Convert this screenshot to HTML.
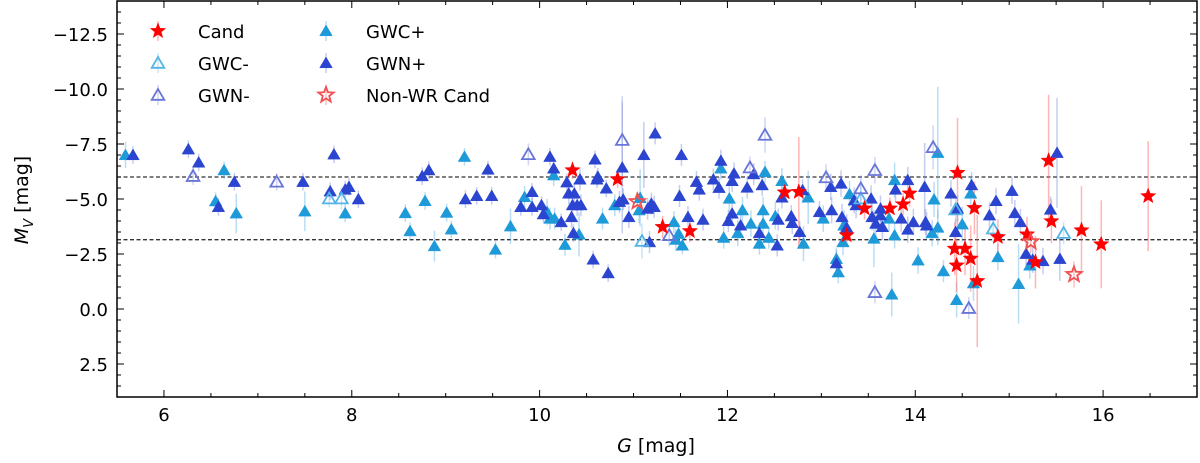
<!DOCTYPE html>
<html><head><meta charset="utf-8"><style>
html,body{margin:0;padding:0;background:#fff;}
svg{display:block;font-family:"DejaVu Sans","Liberation Sans",sans-serif;}
</style></head><body>
<svg id="chart" width="1200" height="463" viewBox="0 0 1200 463" xmlns="http://www.w3.org/2000/svg">
<rect x="0" y="0" width="1200" height="463" fill="#fff"/>
<g id="grid"></g>
<g id="errs"></g>
<g id="marks"></g>
<g id="axes"></g>
<g id="legend"></g>
<text x="656" y="452" font-size="19" text-anchor="middle"><tspan font-style="italic">G</tspan> [mag]</text>
<text transform="translate(28,200) rotate(-90)" font-size="19" text-anchor="middle"><tspan font-style="italic">M</tspan><tspan font-style="italic" font-size="13" dy="5">V</tspan><tspan dy="-5"> [mag]</tspan></text>
</svg>
<script>
const xTicks=[6,8,10,12,14,16];
const xTickLabels=["6","8","10","12","14","16"];
const yTicks=[-12.5,-10,-7.5,-5,-2.5,0,2.5];
const yTickLabels=["\u221212.5","\u221210.0","\u22127.5","\u22125.0","\u22122.5","0.0","2.5"];
const refLines=[-6.0,-3.15];

const gwcpG=[5.59,6.55,6.64,6.77,7.50,7.93,8.57,8.62,8.78,8.88,9.01,9.06,9.20,9.69,9.53,9.84,10.08,10.11,10.16,10.15,10.27,10.42,10.67,10.80,11.07,11.06,11.43,11.45,11.48,11.52,11.93,11.96,12.02,12.11,12.16,12.25,12.34,12.38,12.38,12.40,12.44,12.51,12.58,12.81,12.86,13.02,13.24,13.23,13.16,13.18,13.30,13.56,13.72,13.78,13.78,13.75,14.03,14.24,14.20,14.18,14.24,14.30,14.44,14.50,14.59,14.62,14.88,15.10,15.22];
const gwcpM=[-7.00,-4.90,-6.31,-4.35,-4.44,-4.35,-4.36,-3.54,-4.91,-2.86,-4.38,-3.62,-6.92,-3.76,-2.70,-5.09,-4.41,-4.11,-4.11,-6.08,-2.92,-3.39,-4.11,-4.72,-5.05,-4.49,-3.95,-3.15,-3.42,-2.89,-6.39,-3.24,-5.02,-3.45,-4.49,-3.88,-2.97,-4.49,-3.88,-6.23,-3.24,-4.22,-5.82,-2.97,-5.07,-4.11,-3.80,-3.04,-2.28,-1.67,-5.22,-3.20,-4.11,-5.86,-3.35,-0.66,-2.21,-7.10,-4.98,-3.45,-3.70,-1.72,-0.41,-3.85,-5.25,-1.17,-2.36,-1.14,-1.98];
const gwcpE=[0.6,0.4,0.4,0.9,0.9,0.4,0.4,0.4,0.4,0.7,0.4,0.4,0.4,0.8,0.4,0.5,0.6,0.5,0.5,0.5,0.5,1.0,0.5,0.5,1.3,0.6,0.5,0.5,0.5,0.4,0.5,0.5,0.6,0.6,0.6,0.6,0.5,0.6,0.6,0.5,0.5,0.6,0.6,0.8,1.2,0.6,0.7,0.6,0.5,0.5,0.6,1.3,0.6,0.8,0.6,1.0,0.6,3.0,0.8,0.6,0.8,0.5,0.8,0.8,0.8,0.8,0.6,1.8,0.6];

const gwnpG=[5.67,6.26,6.37,6.58,6.75,7.48,7.77,7.81,7.93,7.97,8.07,8.75,8.82,9.21,9.33,9.45,9.49,9.80,9.92,9.92,10.02,10.04,10.11,10.15,10.23,10.29,10.31,10.35,10.34,10.37,10.40,10.36,10.43,10.44,10.57,10.59,10.61,10.62,10.71,10.73,10.85,10.88,10.89,10.95,11.11,11.15,11.17,11.19,11.22,11.23,11.49,11.51,11.58,11.67,11.70,11.74,11.85,11.91,11.93,12.01,12.05,12.07,12.05,12.14,12.21,12.28,12.34,12.37,12.53,12.54,12.58,12.68,12.69,12.77,12.80,12.98,13.10,13.11,13.21,13.22,13.27,13.16,13.35,13.37,13.53,13.54,13.58,13.63,13.63,13.65,13.79,13.85,13.92,13.92,13.98,14.10,14.11,14.12,14.38,14.43,14.45,14.60,14.79,14.86,15.03,15.06,15.12,15.18,15.25,15.36,15.44,15.51,15.54];
const gwnpM=[-7.00,-7.26,-6.66,-4.64,-5.78,-5.78,-5.35,-7.03,-5.43,-5.55,-4.99,-6.04,-6.31,-4.99,-5.14,-6.34,-5.14,-4.64,-5.32,-4.64,-4.72,-4.31,-6.92,-6.39,-3.95,-5.76,-5.25,-4.72,-4.18,-5.25,-4.72,-3.45,-5.89,-4.72,-2.25,-6.80,-5.89,-6.01,-5.48,-1.63,-4.87,-6.43,-4.98,-4.18,-7.00,-4.56,-3.04,-4.79,-4.64,-7.98,-5.14,-7.00,-4.18,-5.78,-5.43,-4.06,-5.89,-5.51,-6.74,-4.00,-4.34,-6.16,-5.82,-3.80,-5.52,-6.13,-3.45,-5.63,-2.89,-4.06,-5.07,-4.22,-3.91,-3.50,-5.40,-4.41,-5.55,-4.49,-5.70,-4.18,-3.70,-2.08,-4.94,-4.72,-5.02,-4.18,-3.88,-4.56,-4.26,-3.73,-5.43,-4.11,-5.86,-3.61,-3.95,-5.55,-3.95,-3.80,-5.25,-3.50,-4.56,-5.63,-4.26,-4.91,-5.37,-4.36,-3.95,-2.51,-2.24,-2.18,-4.52,-7.10,-2.28];
const gwnpE=[0.4,0.4,0.4,0.4,0.4,0.4,0.4,0.4,0.4,0.4,0.4,0.4,0.4,0.4,0.4,0.4,0.4,0.4,0.4,0.4,0.4,0.4,0.4,0.4,0.4,0.4,0.5,0.4,0.5,0.5,0.5,0.4,0.5,0.5,0.4,0.4,0.4,0.4,0.4,0.4,0.5,3.0,0.5,0.5,1.5,0.5,0.5,0.5,0.5,0.5,0.5,0.5,0.5,0.5,0.5,0.5,0.5,0.5,0.5,0.5,0.5,0.5,0.5,0.5,0.5,0.5,0.5,0.5,0.5,0.5,0.5,0.5,0.5,0.5,0.5,0.5,0.6,0.6,0.6,0.6,0.6,0.6,0.6,0.6,0.6,0.6,0.6,0.6,0.6,0.6,0.6,0.6,0.6,0.6,0.6,2.0,0.6,0.6,0.6,0.6,0.6,0.6,0.6,0.6,0.6,0.6,0.6,0.6,0.6,0.6,0.6,2.5,1.0];

const gwnmG=[6.31,7.20,9.88,10.88,11.38,12.24,12.40,13.05,13.42,13.57,13.57,14.19,14.57];
const gwnmM=[-6.04,-5.78,-7.03,-7.68,-3.35,-6.43,-7.91,-5.98,-5.48,-6.31,-0.76,-7.35,-0.04];
const gwnmE=[0.4,0.4,0.5,2.0,0.5,0.5,0.8,0.6,0.6,0.6,0.5,1.0,0.5];

const gwcmG=[7.76,7.89,11.09,13.42,14.43,14.83,15.58];
const gwcmM=[-5.02,-5.02,-3.09,-5.02,-4.52,-3.65,-3.45];
const gwcmE=[0.4,0.5,0.8,0.6,0.6,0.6,0.5];

const candG=[10.35,10.83,11.31,11.60,12.61,12.76,13.27,13.46,13.73,13.87,13.94,14.45,14.42,14.44,14.53,14.59,14.63,14.66,14.88,15.19,15.28,15.42,15.45,15.77,15.98,16.48];
const candM=[-6.31,-5.90,-3.73,-3.54,-5.30,-5.32,-3.35,-4.57,-4.57,-4.76,-5.25,-6.19,-2.74,-1.98,-2.74,-2.29,-4.59,-1.27,-3.27,-3.39,-2.13,-6.74,-3.99,-3.58,-2.94,-5.13];
const candE=[0.4,0.4,0.5,0.5,0.4,2.5,0.5,0.5,0.5,0.5,0.6,2.5,1.2,1.2,1.2,1.5,1.2,3.0,0.8,0.8,1.2,3.0,1.0,2.0,2.0,2.5];

const nonwrG=[11.04,15.23,15.69];
const nonwrM=[-4.88,-3.06,-1.57];
const nonwrE=[0.4,0.5,0.6];

const X0=117,X1=1197,Y0=1,Y1=397,GMIN=5.5,GMAX=17,MMIN=-14,MMAX=4;
function xs(g){return X0+(g-GMIN)/(GMAX-GMIN)*(X1-X0);}
function ys(m){return Y0+(m-MMIN)/(MMAX-MMIN)*(Y1-Y0);}
const NS='http://www.w3.org/2000/svg';
function mk(tag,attrs,parent){const e=document.createElementNS(NS,tag);for(const k in attrs)e.setAttribute(k,attrs[k]);parent.appendChild(e);return e;}
const axes=document.getElementById('axes'),errs=document.getElementById('errs'),marks=document.getElementById('marks'),grid=document.getElementById('grid'),legend=document.getElementById('legend');

refLines.forEach(v=>{
  const l=mk('line',{x1:X0,x2:X1,y1:ys(v),y2:ys(v),stroke:'#333','stroke-width':1.3,'stroke-dasharray':'4,2.5'},grid);
  
  
});

function tri(x,y,s){return `${x},${y-s} ${x-s*1.05},${y+s*0.8} ${x+s*1.05},${y+s*0.8}`;}
function star(x,y,R){const r=R*0.42;let p=[];for(let i=0;i<10;i++){const a=-Math.PI/2+i*Math.PI/5;const rr=i%2?r:R;p.push((x+rr*Math.cos(a)).toFixed(1)+','+(y+rr*Math.sin(a)).toFixed(1));}return p.join(' ');}

function series(G,M,E,name,color,errColor,kind,open){
  for(let i=0;i<G.length;i++){
    const x=xs(G[i]);
    const eb=mk('line',{x1:x,x2:x,y1:ys(M[i]-E[i]),y2:ys(M[i]+E[i]),stroke:errColor,'stroke-width':1.5},errs);
    
    
  }
  for(let i=0;i<G.length;i++){
    const x=xs(G[i]),y=ys(M[i]);
    const pts=kind==='star'?star(x,y,8):tri(x,y,6);
    const p=mk('polygon',{points:pts,fill:open?'none':color,stroke:color,'stroke-width':open?1.8:0.5},marks);
    
    
  }
}
series(gwcpG,gwcpM,gwcpE,'gwc-plus','#1e9ad9','rgba(100,180,230,0.45)','tri',false);
series(gwnpG,gwnpM,gwnpE,'gwn-plus','#2b45d0','rgba(110,130,220,0.4)','tri',false);
series(gwcmG,gwcmM,gwcmE,'gwc-minus','#55b4e6','rgba(120,190,235,0.4)','tri',true);
series(gwnmG,gwnmM,gwnmE,'gwn-minus','#6a75d8','rgba(140,150,225,0.4)','tri',true);
series(candG,candM,candE,'cand','#ff0000','rgba(255,110,110,0.5)','star',false);
series(nonwrG,nonwrM,nonwrE,'non-wr-cand','#f25050','rgba(255,130,130,0.5)','star',true);

const fr=mk('rect',{x:X0,y:Y0,width:X1-X0,height:Y1-Y0,fill:'none',stroke:'#000','stroke-width':1.5},axes);


for(let g=5.5;g<=17.001;g+=0.5){const x=xs(g);const major=xTicks.some(t=>Math.abs(t-g)<1e-6);const L=major?7:4;
  mk('line',{x1:x,x2:x,y1:Y1,y2:Y1-L,stroke:'#000','stroke-width':1},axes);
  mk('line',{x1:x,x2:x,y1:Y0,y2:Y0+L,stroke:'#000','stroke-width':1},axes);}
for(let m=-14;m<=4.001;m+=0.5){const y=ys(m);const major=yTicks.some(t=>Math.abs(t-m)<1e-6);const L=major?7:4;
  mk('line',{x1:X0,x2:X0+L,y1:y,y2:y,stroke:'#000','stroke-width':1},axes);
  mk('line',{x1:X1,x2:X1-L,y1:y,y2:y,stroke:'#000','stroke-width':1},axes);}
xTicks.forEach((t,i)=>{const tx=mk('text',{x:xs(t),y:421,'font-size':18,'text-anchor':'middle'},axes);tx.textContent=xTickLabels[i];
  
  });
yTicks.forEach((t,i)=>{const tx=mk('text',{x:108,y:ys(t)+7,'font-size':18,'text-anchor':'end'},axes);tx.textContent=yTickLabels[i];
  
  });

const legItems=[
 ['Cand',158,31,'star',false,'#ff0000','rgba(255,110,110,0.5)'],
 ['GWC-',158,63,'tri',true,'#55b4e6','rgba(120,190,235,0.4)'],
 ['GWN-',158,95,'tri',true,'#6a75d8','rgba(140,150,225,0.4)'],
 ['GWC+',326,31,'tri',false,'#1e9ad9','rgba(100,180,230,0.45)'],
 ['GWN+',326,63,'tri',false,'#2b45d0','rgba(110,130,220,0.4)'],
 ['Non-WR Cand',326,95,'star',true,'#f25050','rgba(255,130,130,0.5)']];
legItems.forEach(it=>{
  const g=mk('g',{},legend);
  
  
  mk('line',{x1:it[1],x2:it[1],y1:it[2]-10,y2:it[2]+10,stroke:it[6],'stroke-width':1.5},g);
  mk('polygon',{points:it[3]==='star'?star(it[1],it[2],8):tri(it[1],it[2],6),fill:it[4]?'none':it[5],stroke:it[5],'stroke-width':it[4]?1.8:0.5},g);
  const t=mk('text',{x:it[1]+40,y:it[2]+7,'font-size':18},g);t.textContent=it[0];
});
</script>
</body></html>
